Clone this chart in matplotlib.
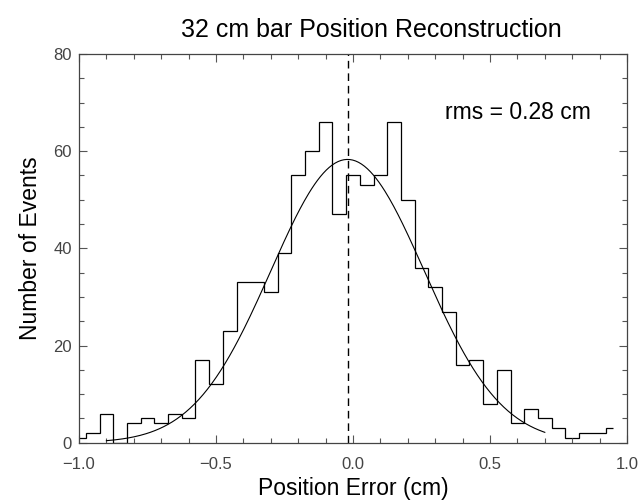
import numpy as np
import matplotlib
matplotlib.use("Agg")
from matplotlib import pyplot as plt
from matplotlib.ticker import MultipleLocator

# histogram of position error, bin centres and counts
centres = [-1.00, -0.95, -0.90, -0.85, -0.80, -0.75, -0.70, -0.65, -0.60, -0.55,
           -0.50, -0.45, -0.40, -0.35, -0.30, -0.25, -0.20, -0.15, -0.10, -0.05,
           0.00, 0.05, 0.10, 0.15, 0.20, 0.25, 0.30, 0.35, 0.40, 0.45,
           0.50, 0.55, 0.60, 0.65, 0.70, 0.75, 0.80, 0.85, 0.90, 0.95]
counts = [1, 2, 6, 0, 4, 5, 4, 6, 5, 17,
          12, 23, 33, 33, 31, 39, 55, 60, 66, 47,
          55, 53, 55, 66, 50, 36, 32, 27, 16, 17,
          8, 15, 4, 7, 5, 3, 1, 2, 2, 3]

# gaussian fit parameters
fit_amp = 58.3
fit_mean = -0.02
fit_sigma = 0.28
fit_range = (-0.90, 0.70)

title = "32 cm bar Position Reconstruction"
xlabel = "Position Error (cm)"
ylabel = "Number of Events"
rms_text = "rms = 0.28 cm"

plt.rcParams['font.family'] = ['Liberation Sans', 'DejaVu Sans']

fig = plt.figure(figsize=(6.43, 5.04), dpi=100)
ax = fig.add_axes([0.1229, 0.1216, 0.8522, 0.7713])

# IDL psym=10 style histogram: half-width steps at both ends
bw = centres[1] - centres[0]
edges = [centres[0]] + [c + bw / 2 for c in centres[:-1]] + [centres[-1]]
ax.stairs(counts, edges, color='black', lw=0.9, baseline=None)

xf = np.linspace(fit_range[0], fit_range[1], 300)
yf = fit_amp * np.exp(-(xf - fit_mean) ** 2 / (2 * fit_sigma ** 2))
ax.plot(xf, yf, color='black', lw=0.8)

ax.axvline(fit_mean, color='black', lw=1.0, ls=(0, (5.5, 3.5)))

ax.set_xlim(-1.0, 1.0)
ax.set_ylim(0, 80)
ax.xaxis.set_major_locator(MultipleLocator(0.5))
ax.xaxis.set_minor_locator(MultipleLocator(0.1))
ax.yaxis.set_major_locator(MultipleLocator(20))
ax.yaxis.set_minor_locator(MultipleLocator(5))
ax.xaxis.set_major_formatter(plt.FuncFormatter(lambda v, p: f"{v:.1f}".replace('-', '\u2212')))
ax.tick_params(which='both', direction='in', top=True, right=True,
               colors='#555555', labelcolor='#444444', labelsize=12, width=0.8)
ax.tick_params(which='major', length=6)
ax.tick_params(which='minor', length=3.3)
ax.tick_params(axis='x', pad=10)
ax.tick_params(axis='y', pad=5)
for s in ax.spines.values():
    s.set_color('#444444')
    s.set_linewidth(0.9)

ax.set_xlabel(xlabel, fontsize=16.5, labelpad=4)
ax.set_ylabel(ylabel, fontsize=16.5, labelpad=8)
fig.text(0.578, 0.94, title, fontsize=18, ha='center', va='center')
ax.text(0.668, 0.85, rms_text, fontsize=16.5, transform=ax.transAxes, ha='left', va='center')

fig.savefig("out.png", dpi=100)
